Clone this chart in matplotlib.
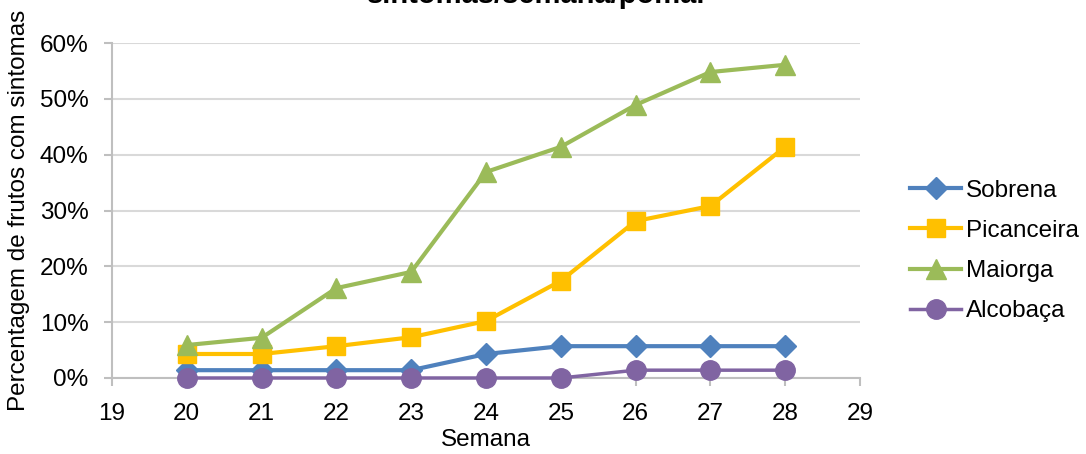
import numpy as np
import matplotlib.pyplot as plt
from matplotlib.ticker import PercentFormatter

semanas = [20, 21, 22, 23, 24, 25, 26, 27, 28]
sobrena = [1.4, 1.4, 1.4, 1.4, 4.3, 5.7, 5.7, 5.7, 5.7]
picanceira = [4.3, 4.3, 5.7, 7.3, 10.2, 17.4, 28.1, 30.8, 41.4]
maiorga = [5.9, 7.2, 16.1, 19.0, 36.9, 41.4, 48.9, 54.8, 56.1]
alcobaca = [0, 0, 0, 0, 0, 0, 1.4, 1.4, 1.4]

plt.rcParams['font.family'] = ['Liberation Sans', 'DejaVu Sans']
fs = 17.5

fig = plt.figure(figsize=(10.86, 4.54), dpi=100)
ax = fig.add_axes([112/1086, 1 - 378/454, (860-112)/1086, (378-43)/454])

ax.plot(semanas, sobrena, color='#4F81BD', marker='D', markersize=11, lw=3, label='Sobrena', zorder=3)
ax.plot(semanas, picanceira, color='#FFC000', marker='s', markersize=13, lw=3, label='Picanceira', zorder=3)
ax.plot(semanas, maiorga, color='#9BBB59', marker='^', markersize=14, lw=3, label='Maiorga', zorder=3)
ax.plot(semanas, alcobaca, color='#8064A2', marker='o', markersize=14, lw=2.5, label='Alcobaça', zorder=3)

ax.set_xlim(19, 29)
ax.set_ylim(0, 60)
ax.set_xticks(range(19, 30))
ax.set_yticks(range(0, 61, 10))
ax.yaxis.set_major_formatter(PercentFormatter(decimals=0))
ax.grid(axis='y', color='#D9D9D9', lw=1.5)
ax.set_axisbelow(True)
for s in ['top', 'right']:
    ax.spines[s].set_visible(False)
for s in ['left', 'bottom']:
    ax.spines[s].set_color('#BFBFBF')
    ax.spines[s].set_linewidth(1.5)
ax.tick_params(colors='#BFBFBF', labelcolor='black', labelsize=fs, length=6, width=1.5)
ax.tick_params(axis='y', pad=11)
ax.tick_params(axis='x', pad=12)

ax.set_xlabel('Semana', fontsize=fs, labelpad=3)
ax.set_ylabel('Percentagem de frutos com sintomas', fontsize=fs, labelpad=7)

fig.text(0.495, 1.0 + 5/454, 'sintomas/semana/pomar', ha='center', va='center',
         fontsize=21, fontweight='bold')

ax.legend(loc='center left', bbox_to_anchor=(1.067, 0.379), frameon=False, fontsize=fs,
          handlelength=2.1, labelspacing=0.75, handletextpad=0.2,
          borderpad=0, borderaxespad=0)

for line in ax.lines:
    line.set_clip_on(False)

fig.savefig('out.png', dpi=100)
